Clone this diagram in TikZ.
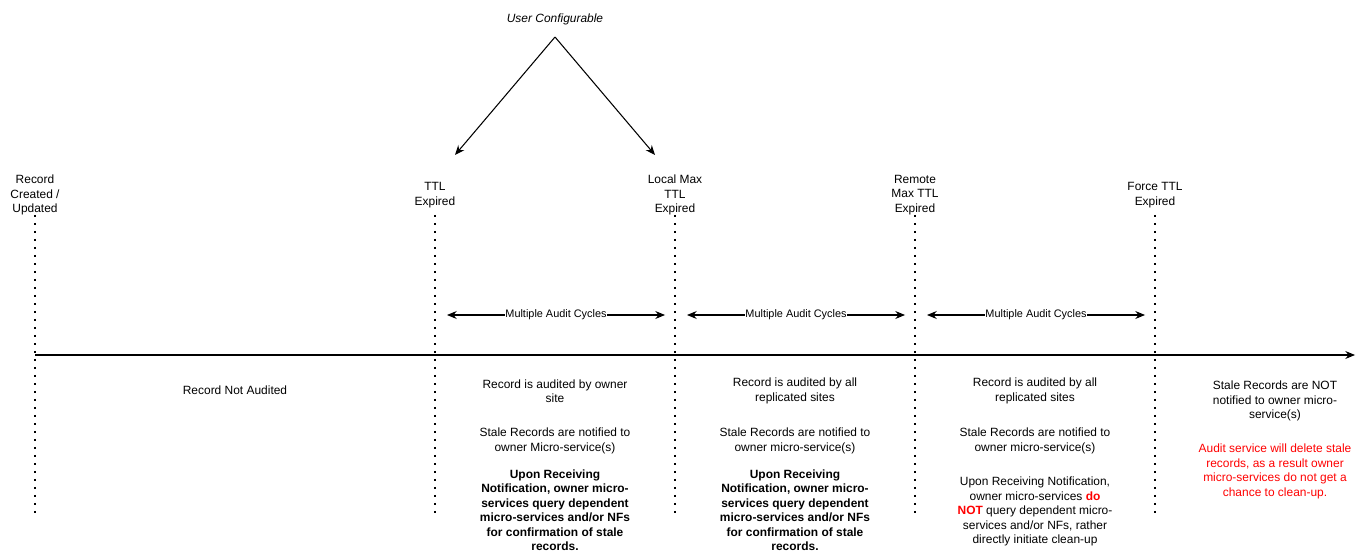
\documentclass[tikz,border=0pt]{standalone}
\usepackage{fontspec}
\setmainfont{Liberation Sans}
\usepackage{xcolor}
\usetikzlibrary{arrows.meta}

\begin{document}
\begin{tikzpicture}[
        font=\fontsize{6.8}{8.25}\selectfont,
        line width=0.6pt,
        tip/.style={-{Stealth[length=5.5pt,width=4.5pt]}},
        twotip/.style={{Stealth[length=5.5pt,width=4.5pt]}-{Stealth[length=5.5pt,width=4.5pt]}},
        dotmark/.style={line width=1pt, dash pattern=on 1pt off 3.55pt},
        txt/.style={align=center, inner sep=0pt},
        cyclbl/.style={font=\fontsize{6.2}{7.5}\selectfont, fill=white, inner sep=0pt}]
        \useasboundingbox (0,0) rectangle (27.4,-11.18);
        % NODES
        % labels above the timeline
        \node[txt] (created) at (0.7,-3.9) {Record\\Created /\\Updated};
        \node[txt] (ttl) at (8.7,-3.9) {TTL\\Expired};
        \node[txt] (localmax) at (13.5,-3.9) {Local Max\\TTL\\Expired};
        \node[txt] (remotemax) at (18.3,-3.9) {Remote\\Max TTL\\Expired};
        \node[txt] (force) at (23.1,-3.9) {Force TTL\\Expired};
        % user configurable
        \node[txt, font=\fontsize{6.8}{8.25}\selectfont\itshape] (user) at (11.1,-0.38) {User Configurable};
        \coordinate (userfoot) at (11.1,-0.74);
        \coordinate (ttlhead) at (9.1,-3.1);
        \coordinate (localhead) at (13.1,-3.1);
        % timeline
        \coordinate (start) at (0.7,-7.1);
        \coordinate (end) at (27.1,-7.1);
        % ends of the dotted marks
        \foreach \n/\x in {created/0.7, ttl/8.7, localmax/13.5, remotemax/18.3, force/23.1} {
            \coordinate (\n top) at (\x,-4.3);
            \coordinate (\n bot) at (\x,-10.3);
        }
        % audit cycles
        \coordinate (cycAl) at (8.94,-6.3);
        \coordinate (cycAr) at (13.3,-6.3);
        \coordinate (cycBl) at (13.74,-6.3);
        \coordinate (cycBr) at (18.1,-6.3);
        \coordinate (cycCl) at (18.54,-6.3);
        \coordinate (cycCr) at (22.9,-6.3);
        % texts below the timeline
        \node[txt] (notaudited) at (4.7,-7.8) {Record Not Audited};
        \node[txt] (ownerA) at (11.1,-7.82) {Record is audited by owner\\site};
        \node[txt] (staleA) at (11.1,-8.82) {Stale Records are notified to\\owner Micro-service(s)};
        \node[txt, font=\fontsize{6.8}{8.25}\selectfont\bfseries] (upA) at (11.1,-10.2) {Upon Receiving\\Notification, owner micro-\\services query dependent\\micro-services and/or NFs\\for confirmation of stale\\records.};
        \node[txt] (ownerB) at (15.9,-7.82) {Record is audited by all\\replicated sites};
        \node[txt] (staleB) at (15.9,-8.82) {Stale Records are notified to\\owner micro-service(s)};
        \node[txt, font=\fontsize{6.8}{8.25}\selectfont\bfseries] (upB) at (15.9,-10.2) {Upon Receiving\\Notification, owner micro-\\services query dependent\\micro-services and/or NFs\\for confirmation of stale\\records.};
        \node[txt] (ownerC) at (20.7,-7.82) {Record is audited by all\\replicated sites};
        \node[txt] (staleC) at (20.7,-8.82) {Stale Records are notified to\\owner micro-service(s)};
        \node[txt] (upC) at (20.7,-10.23) {Upon Receiving Notification,\\owner micro-services \textcolor{red}{\bfseries do}\\\textcolor{red}{\bfseries NOT} query dependent micro-\\services and/or NFs, rather\\directly initiate clean-up};
        \node[txt] (notnotified) at (25.5,-8.02) {Stale Records are NOT\\notified to owner micro-\\service(s)};
        \node[txt, text=red] (delete) at (25.5,-9.43) {Audit service will delete stale\\records, as a result owner\\micro-services do not get a\\chance to clean-up.};

        % ARROWS
        \draw[tip] (start) -- (end);
        \foreach \n in {created, ttl, localmax, remotemax, force}
            \draw[dotmark] (\n top) -- (\n bot);
        \draw[tip] (userfoot) -- (ttlhead);
        \draw[tip] (userfoot) -- (localhead);
        \draw[twotip] (cycAl) -- node[cyclbl] {Multiple Audit Cycles} (cycAr);
        \draw[twotip] (cycBl) -- node[cyclbl] {Multiple Audit Cycles} (cycBr);
        \draw[twotip] (cycCl) -- node[cyclbl] {Multiple Audit Cycles} (cycCr);
    \end{tikzpicture}
\end{document}
